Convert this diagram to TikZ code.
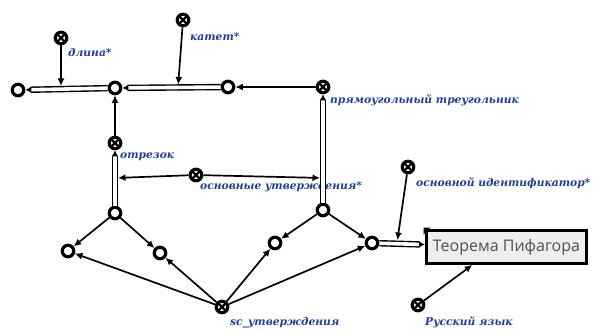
\documentclass[tikz,border=0pt]{standalone}
\usepackage{fontspec}
\setmainfont{DejaVu Serif}
\newfontfamily\boxfont{Open Sans}
\usetikzlibrary{arrows.meta,calc}
\definecolor{lblue}{HTML}{1F3F8F}
\definecolor{boxfill}{HTML}{EEEEEC}
\definecolor{boxtext}{HTML}{505050}
\begin{document}
\begin{tikzpicture}[x=1pt,y=-1pt,
  vert/.style={circle,draw,line width=3.2pt,minimum size=11.5pt,inner sep=0pt,fill=white},
  cls/.style={vert,
    path picture={\draw[line width=2.2pt]
      (path picture bounding box.south west) -- (path picture bounding box.north east)
      (path picture bounding box.north west) -- (path picture bounding box.south east);}},
  lbl/.style={font=\bfseries\itshape\fontsize{10.7}{12}\selectfont,text=lblue,anchor=west,inner sep=0pt},
  arc/.style={line width=1.7pt,-{Latex[length=7.5pt,width=7pt]}},
  dbl/.style={double,double distance=3.6pt,line width=1.4pt,-{Latex[length=6pt,width=6.5pt]}},
  onarc/.style={arc,shorten >=3pt},
]
\useasboundingbox (0,0) rectangle (594,334);

% plain vertices
\node[vert] (a) at (18,90) {};
\node[vert] (b) at (115,88) {};
\node[vert] (c) at (228,87) {};
\node[vert] (d) at (115,213) {};
\node[vert] (e) at (323,210) {};
\node[vert] (f) at (68,251) {};
\node[vert] (g) at (160,253) {};
\node[vert] (h) at (275,243) {};
\node[vert] (i) at (372,243) {};

% class nodes
\node[cls] (dlina) at (61,38) {};
\node[cls] (katet) at (183,20) {};
\node[cls] (pt) at (323,87) {};
\node[cls] (otr) at (115,143) {};
\node[cls] (osn) at (196,175) {};
\node[cls] (sc) at (222,307) {};
\node[cls] (oid) at (408,167) {};
\node[cls] (rus) at (418,305) {};

% labels
\node[lbl] at (68,53) {длина*};
\node[lbl] at (190,37) {катет*};
\node[lbl] at (330,100) {прямоугольный треугольник};
\node[lbl] at (120,157) {отрезок};
\node[lbl] at (200,187) {основные утверждения*};
\node[lbl] at (416,183) {основной идентификатор*};
\node[lbl] at (230,323) {sc\_утверждения};
\node[lbl] at (425,322) {Русский язык};

% content node
\node[draw,line width=3pt,fill=boxfill,minimum width=160pt,minimum height=33pt,
  font=\boxfont\fontsize{16}{18}\selectfont,text=boxtext] (thm) at (506.5,247) {Теорема Пифагора};
\fill (thm.north west) ++(-1.5,-1.5) -- ++(7,0) -- ++(-7,7) -- cycle;

% common arcs
\draw[dbl] (c) -- (b);
\draw[dbl] (b) -- (a);
\draw[dbl] (d) -- (otr);
\draw[dbl] (e) -- (pt);
\draw[dbl] (i) -- (thm);

% points on the common arcs
\coordinate (kp) at (178,87.5);
\coordinate (dp) at (61,89);
\coordinate (ol) at (115,178);
\coordinate (or) at (323,178);
\coordinate (ip) at (397,243);
\coordinate (rp) at ($(thm.south west)!0.29!(thm.south east)$);

\draw[onarc] (katet) -- (kp);
\draw[onarc] (dlina) -- (dp);
\draw[onarc] (osn) -- (ol);
\draw[onarc] (osn) -- (or);
\draw[onarc] (oid) -- (ip);

% plain arcs
\draw[arc] (pt) -- (c);
\draw[arc] (otr) -- (b);
\draw[arc] (d) -- (f);
\draw[arc] (d) -- (g);
\draw[arc] (e) -- (h);
\draw[arc] (e) -- (i);
\draw[arc] (sc) -- (f);
\draw[arc] (sc) -- (g);
\draw[arc] (sc) -- (h);
\draw[arc] (sc) -- (i);
\draw[arc] (rus) -- (rp);
\end{tikzpicture}
\end{document}
